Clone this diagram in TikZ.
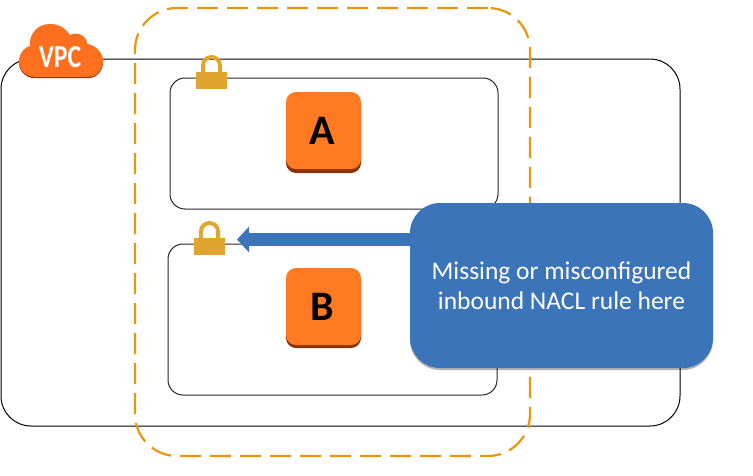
\documentclass[tikz,border=0pt]{standalone}
\usepackage{fontspec}
\setmainfont{Carlito}
\usetikzlibrary{arrows.meta,shadows,calc}
\definecolor{awsorange}{HTML}{FF7A21}
\definecolor{awsdark}{HTML}{8A3208}
\definecolor{dashorange}{HTML}{E8960F}
\definecolor{lockgold}{HTML}{E0A52F}
\definecolor{calloutblue}{HTML}{3B74B8}
\tikzset{
  vpcbox/.style={draw=black,line width=1pt,rounded corners=30pt,minimum width=679pt,minimum height=367pt,inner sep=0pt},
  subnetbox/.style={draw=black!85,line width=1pt,rounded corners=15pt,inner sep=0pt},
  nacl/.style={draw=dashorange,line width=2.2pt,dash pattern=on 21pt off 9pt,rounded corners=42pt,minimum width=395pt,minimum height=448pt,inner sep=0pt},
  instance/.style={fill=awsorange,rounded corners=10pt,minimum width=75pt,minimum height=77pt,inner sep=0pt,font=\fontsize{42}{44}\selectfont\bfseries,text=black},
  callout/.style={fill=calloutblue,rounded corners=30pt,minimum width=303pt,minimum height=165pt,inner sep=0pt,text=white,align=center,font=\fontsize{25.5}{30}\selectfont,
     drop shadow={shadow xshift=0pt,shadow yshift=-2pt,opacity=.3,fill=black}},
  flow/.style={draw=calloutblue,line width=13pt,-{Triangle[length=12pt,width=25pt]}},
}
\newcommand{\lockat}[2]{%
  \draw[lockgold,line width=4pt] (#1-8.5,#2+6) -- (#1-8.5,#2-1.5) arc[start angle=180,end angle=360,radius=8.5] -- (#1+8.5,#2+6);
  \fill[lockgold] (#1-15.5,#2+5) rectangle (#1+15.5,#2+22);
}
\begin{document}
\begin{tikzpicture}[x=1pt,y=-1pt]
\useasboundingbox (0,0) rectangle (753,475);
\fill[white] (0,0) rectangle (753,475);
\node[vpcbox] (vpc) at (340.5,242.5) {};
\node[subnetbox,minimum width=328pt,minimum height=131pt] (subA) at (334,143.5) {};
\node[subnetbox,minimum width=329pt,minimum height=151pt] (subB) at (332.5,319.5) {};
\node[nacl] (acl) at (332.5,232) {};
% cloud
\path[fill=awsdark,shift={(0,1.2)}] (36,77) .. controls (24,77) and (18,68) .. (19,60) .. controls (20,52) and (25,47) .. (30,46) .. controls (29,33) and (38,24) .. (50,24) .. controls (60,24) and (66,29) .. (70,35) .. controls (78,31) and (87,36) .. (87,44) .. controls (96,45) and (103,53) .. (103,61) .. controls (103,70) and (96,77) .. (88,77) -- cycle;
\path[fill=awsorange!92!red] (36,77) .. controls (24,77) and (18,68) .. (19,60) .. controls (20,52) and (25,47) .. (30,46) .. controls (29,33) and (38,24) .. (50,24) .. controls (60,24) and (66,29) .. (70,35) .. controls (78,31) and (87,36) .. (87,44) .. controls (96,45) and (103,53) .. (103,61) .. controls (103,70) and (96,77) .. (88,77) -- cycle;
\node[text=white,font=\fontsize{32}{32}\selectfont\bfseries,inner sep=0pt,xscale=.8] (vpclabel) at (60,57.5) {VPC};
% locks
\lockat{211.5}{67}
\lockat{209.5}{233}
% instances
\fill[awsdark,rounded corners=10pt] (286,96) rectangle (361,173);
\node[instance] (a) at (323.5,130.5) {\hspace{-3pt}\raisebox{-2pt}{A}};
\fill[awsdark,rounded corners=10pt] (286,271) rectangle (361,348);
\node[instance] (b) at (323.5,306.5) {\hspace{-3pt}\raisebox{-2pt}{B}};
% callout
\node[callout] (note) at (561.5,285.5) {\raisebox{-1pt}{Missing or misconfigured}\\\raisebox{-1pt}{inbound NACL rule here}};
\coordinate (tip) at (237,239.5);
\draw[flow] (note.west |- tip) -- (tip);
\end{tikzpicture}
\end{document}
